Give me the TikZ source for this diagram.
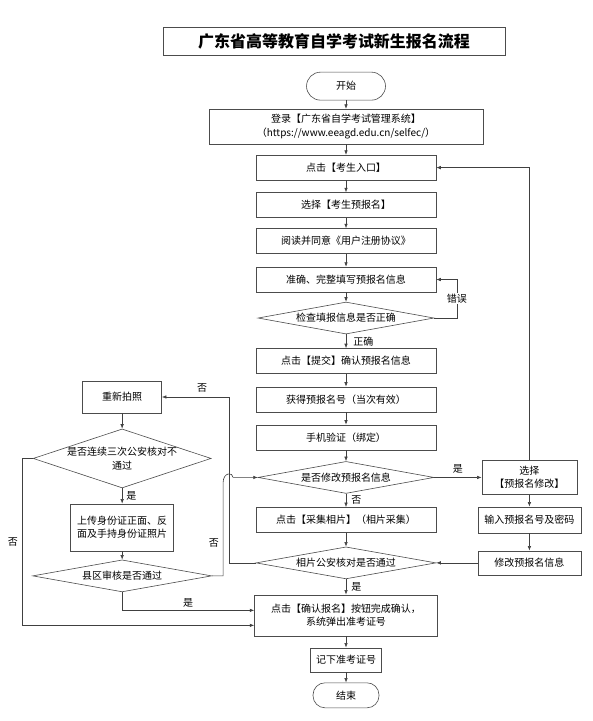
\documentclass[tikz,border=0pt]{standalone}
\usepackage{fontspec}
\setmainfont{Noto Sans CJK SC}
\usetikzlibrary{shapes.geometric,arrows.meta}

\begin{document}
\begin{tikzpicture}[x=1pt,y=-1pt,
  every node/.style={font=\fontsize{10}{13.5}\selectfont},
  box/.style={draw=black!70,line width=0.6pt,fill=white,align=center,inner sep=1pt,minimum width=180pt,minimum height=25pt},
  term/.style={box,rounded corners=12pt},
  decision/.style={diamond,draw=black!70,line width=0.6pt,fill=white,align=center,inner sep=0pt,aspect=6,minimum width=176pt,minimum height=32pt},
  flow/.style={draw=black!75,line width=0.6pt,-{Latex[length=4.5pt,width=3.5pt]}},
  lbl/.style={inner sep=1pt}]
\filldraw[color=white] (0,0) rectangle (592,721);
% Drawing title
\node[draw=black!70,line width=0.6pt,minimum width=342pt,minimum height=28pt,font=\fontsize{16}{18}\selectfont\bfseries] (title) at (334,41.5) {广东省高等教育自学考试新生报名流程};
% Drawing main column
\node[term,minimum width=79pt,minimum height=28pt,rounded corners=14pt] (start) at (346,86) {开始};
\node[box,minimum width=274pt,minimum height=35pt] (login) at (346,126.5) {登录【广东省自学考试管理系统】\\（https://www.eeagd.edu.cn/selfec/）};
\node[box] (entry) at (346,167.5) {点击【考生入口】};
\node[box] (select) at (346,205) {选择【考生预报名】};
\node[box] (read) at (346,241) {阅读并同意《用户注册协议》};
\node[box] (fill) at (346,279.5) {准确、完整填写预报名信息};
\node[decision] (check) at (346,318) {检查填报信息是否正确};
\node[box] (submit) at (346,361) {点击【提交】确认预报名信息};
\node[box] (obtain) at (346,399.5) {获得预报名号（当次有效）};
\node[box] (phone) at (346,437.5) {手机验证（绑定）};
\node[decision] (modq) at (346,477.5) {是否修改预报名信息};
\node[box] (collect) at (346,520) {点击【采集相片】（相片采集）};
\node[decision,minimum width=180pt] (photo) at (346,563) {相片公安核对是否通过};
\node[box,minimum width=183pt,minimum height=41pt] (confirm) at (346,615.5) {点击【确认报名】按钮完成确认，\\系统弹出准考证号};
\node[box,minimum width=71pt,minimum height=24pt] (record) at (346,660) {记下准考证号};
\node[term,minimum width=66pt,minimum height=25pt] (end) at (346,695.5) {结束};
% Drawing right column
\node[box,minimum width=95pt,minimum height=34pt] (sel) at (529.5,477.5) {选择\\【预报名修改】};
\node[box,minimum width=103pt,minimum height=26pt] (input) at (529.5,520) {输入预报名号及密码};
\node[box,minimum width=103pt,minimum height=24pt] (change) at (529.5,563) {修改预报名信息};
% Drawing left column
\node[box,minimum width=79pt,minimum height=32pt] (retake) at (122,397) {重新拍照};
\node[decision,inner sep=-6pt,minimum width=178pt,minimum height=59pt] (thrice) at (122,458.5) {是否连续三次公安核对不\\通过};
\node[box,minimum width=103pt,minimum height=47pt] (upload) at (122,527.5) {上传身份证正面、反\\面及手持身份证照片};
\node[decision,minimum width=179pt] (county) at (122,576) {县区审核是否通过};
% Done with nodes; drawing connectors
\draw[flow] (start) -- (login);
\draw[flow] (login) -- (entry);
\draw[flow] (entry) -- (select);
\draw[flow] (select) -- (read);
\draw[flow] (read) -- (fill);
\draw[flow] (fill) -- (check);
\draw[flow] (check) -- node[lbl,right=6pt]{正确} (submit);
\draw[flow] (check.east) -- (457,318) -- node[lbl,fill=white]{错误} (457,279.5) -- (fill.east);
\draw[flow] (submit) -- (obtain);
\draw[flow] (obtain) -- (phone);
\draw[flow] (phone) -- (modq);
\draw[flow] (modq) -- node[lbl,right=4pt]{否} (collect);
\draw[flow] (collect) -- (photo);
\draw[flow] (photo) -- node[lbl,right=4pt]{是} (confirm);
\draw[flow] (confirm) -- (record);
\draw[flow] (record) -- (end);
% Right loop
\draw[flow] (modq) -- node[lbl,above=3pt]{是} (sel);
\draw[flow] (sel.north) |- (entry.east);
\draw[flow] (sel) -- (input);
\draw[flow] (input) -- (change);
\draw[flow] (change) -- (photo);
% Left loop
\draw[flow] (photo.west) -- (229,563) |- node[lbl,above=3pt,pos=0.7]{否} (retake.east);
\draw[flow] (retake) -- (thrice);
\draw[flow] (thrice) -- node[lbl,right=3pt]{是} (upload);
\draw[flow] (upload) -- (county);
\draw[flow] (county.east) -- (223,576) -- node[lbl,left=3pt,pos=0.35]{否} (223,483) .. controls (223,472) and (233,472) .. (233,477.5) -- (modq.west);
\draw[flow] (county.south) |- node[lbl,above=2pt,pos=0.75]{是} ([yshift=5pt]confirm.west);
\draw[flow] (thrice.west) -- (22,458.5) |- node[lbl,left=3pt,pos=0.25]{否} ([yshift=-10pt]confirm.west);
% Done with connectors
\end{tikzpicture}
\end{document}
